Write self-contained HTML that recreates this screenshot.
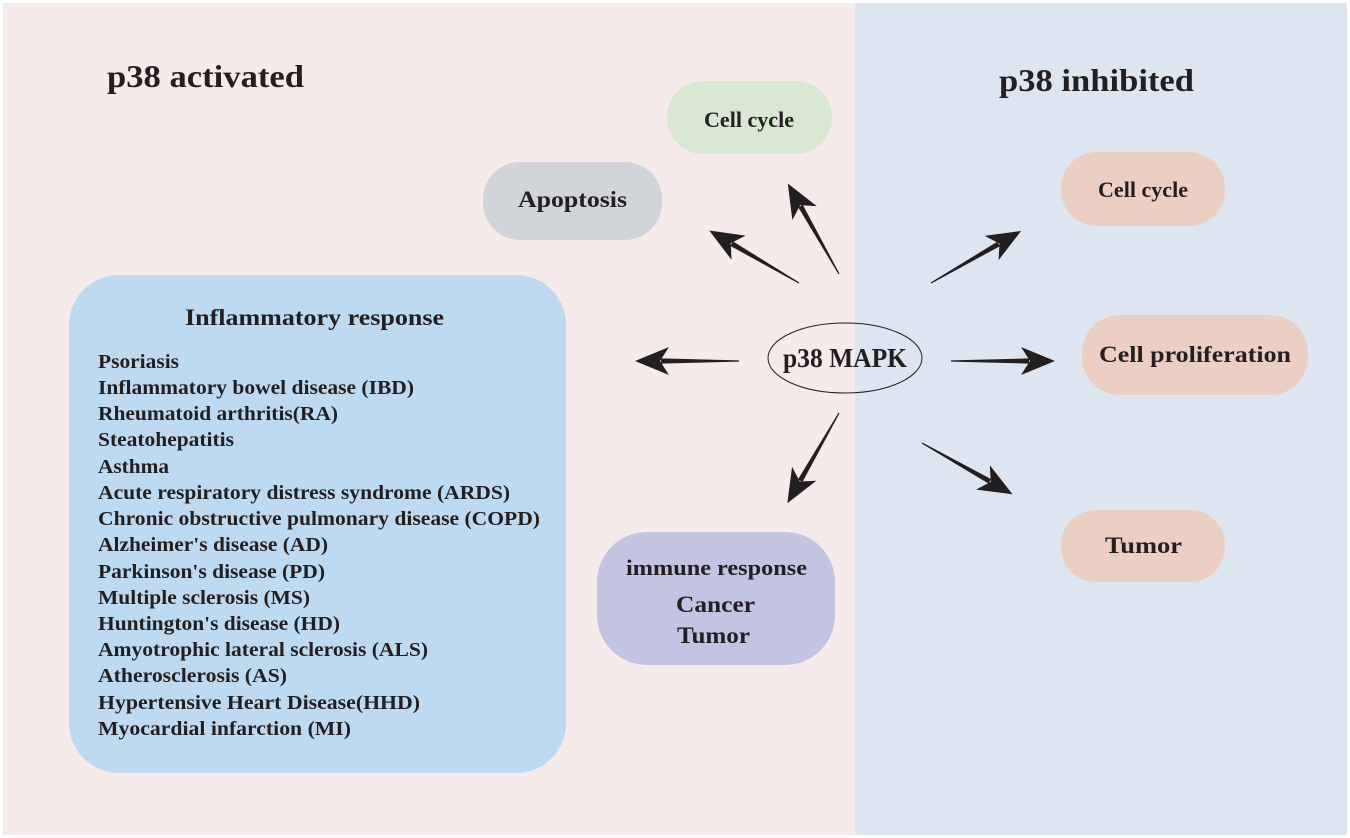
<!DOCTYPE html>
<html><head><meta charset="utf-8"><style>
html,body{margin:0;padding:0;background:#fff;}
svg{display:block;}
text{font-family:"Liberation Serif",serif;font-weight:bold;fill:#231f20;}
</style></head><body>
<svg width="1350" height="838" viewBox="0 0 1350 838" xmlns="http://www.w3.org/2000/svg">
<defs>
<g id="arr">
<polygon points="0,-0.6 78,-2.6 78,2.6 0,0.6" fill="#231f20"/>
<polygon points="104,0 70,-14 79,0 70,14" fill="#231f20"/>
</g>
</defs>
<rect x="0" y="0" width="1350" height="838" fill="#fff"/>
<rect x="3" y="3" width="852" height="832" fill="#f6eaea"/>
<rect x="855" y="3" width="492" height="832" fill="#dde6f0"/>

<text x="107" y="87" font-size="32" textLength="197" lengthAdjust="spacingAndGlyphs">p38 activated</text>
<text x="999" y="91" font-size="32" textLength="195" lengthAdjust="spacingAndGlyphs">p38 inhibited</text>

<rect x="667" y="81" width="165" height="73" rx="36" fill="#d9e8d3"/>
<text x="704" y="127" font-size="22" textLength="90" lengthAdjust="spacingAndGlyphs">Cell cycle</text>

<rect x="483" y="162" width="179" height="78" rx="37" fill="#d1d5da"/>
<text x="518" y="207" font-size="23" textLength="109" lengthAdjust="spacingAndGlyphs">Apoptosis</text>

<rect x="1061" y="152" width="164" height="74" rx="36" fill="#ebcfc3"/>
<text x="1098" y="197" font-size="22" textLength="90" lengthAdjust="spacingAndGlyphs">Cell cycle</text>

<rect x="1082" y="315" width="226" height="80" rx="38" fill="#ebcfc3"/>
<text x="1099" y="362" font-size="23" textLength="192" lengthAdjust="spacingAndGlyphs">Cell proliferation</text>

<rect x="1061" y="510" width="164" height="72" rx="35" fill="#ebcfc3"/>
<text x="1105" y="553" font-size="23" textLength="77" lengthAdjust="spacingAndGlyphs">Tumor</text>

<rect x="597" y="532" width="238" height="133" rx="50" fill="#c3c3e2"/>
<text x="626" y="575" font-size="22" textLength="181" lengthAdjust="spacingAndGlyphs">immune response</text>
<text x="676" y="612" font-size="23" textLength="79" lengthAdjust="spacingAndGlyphs">Cancer</text>
<text x="677" y="643" font-size="23" textLength="73" lengthAdjust="spacingAndGlyphs">Tumor</text>

<rect x="69" y="275" width="497" height="498" rx="50" fill="#bddaf0"/>
<text x="185" y="325" font-size="23" textLength="259" lengthAdjust="spacingAndGlyphs">Inflammatory response</text>
<g font-size="20">
<text x="98" y="368" textLength="81" lengthAdjust="spacingAndGlyphs">Psoriasis</text>
<text x="98" y="394" textLength="316" lengthAdjust="spacingAndGlyphs">Inflammatory bowel disease (IBD)</text>
<text x="98" y="420" textLength="240" lengthAdjust="spacingAndGlyphs">Rheumatoid arthritis(RA)</text>
<text x="98" y="446" textLength="136" lengthAdjust="spacingAndGlyphs">Steatohepatitis</text>
<text x="98" y="473" textLength="71" lengthAdjust="spacingAndGlyphs">Asthma</text>
<text x="98" y="499" textLength="412" lengthAdjust="spacingAndGlyphs">Acute respiratory distress syndrome (ARDS)</text>
<text x="98" y="525" textLength="442" lengthAdjust="spacingAndGlyphs">Chronic obstructive pulmonary disease (COPD)</text>
<text x="98" y="551" textLength="230" lengthAdjust="spacingAndGlyphs">Alzheimer's disease (AD)</text>
<text x="98" y="578" textLength="227" lengthAdjust="spacingAndGlyphs">Parkinson's disease (PD)</text>
<text x="98" y="604" textLength="212" lengthAdjust="spacingAndGlyphs">Multiple sclerosis (MS)</text>
<text x="98" y="630" textLength="242" lengthAdjust="spacingAndGlyphs">Huntington's disease (HD)</text>
<text x="98" y="656" textLength="330" lengthAdjust="spacingAndGlyphs">Amyotrophic lateral sclerosis (ALS)</text>
<text x="98" y="682" textLength="189" lengthAdjust="spacingAndGlyphs">Atherosclerosis (AS)</text>
<text x="98" y="709" textLength="322" lengthAdjust="spacingAndGlyphs">Hypertensive Heart Disease(HHD)</text>
<text x="98" y="735" textLength="253" lengthAdjust="spacingAndGlyphs">Myocardial infarction (MI)</text>
</g>

<ellipse cx="845" cy="358" rx="77" ry="35" fill="none" stroke="#231f20" stroke-width="1"/>
<text x="783" y="367" font-size="27" textLength="124" lengthAdjust="spacingAndGlyphs">p38 MAPK</text>

<use href="#arr" transform="translate(739,361) rotate(180)"/>
<use href="#arr" transform="translate(799,283) rotate(210.3)"/>
<use href="#arr" transform="translate(839,274) rotate(240.5)"/>
<use href="#arr" transform="translate(931,283) rotate(-30)"/>
<use href="#arr" transform="translate(951,361) rotate(0)"/>
<use href="#arr" transform="translate(922,443) rotate(29.5)"/>
<use href="#arr" transform="translate(839,413) rotate(119.8)"/>
</svg>
</body></html>
